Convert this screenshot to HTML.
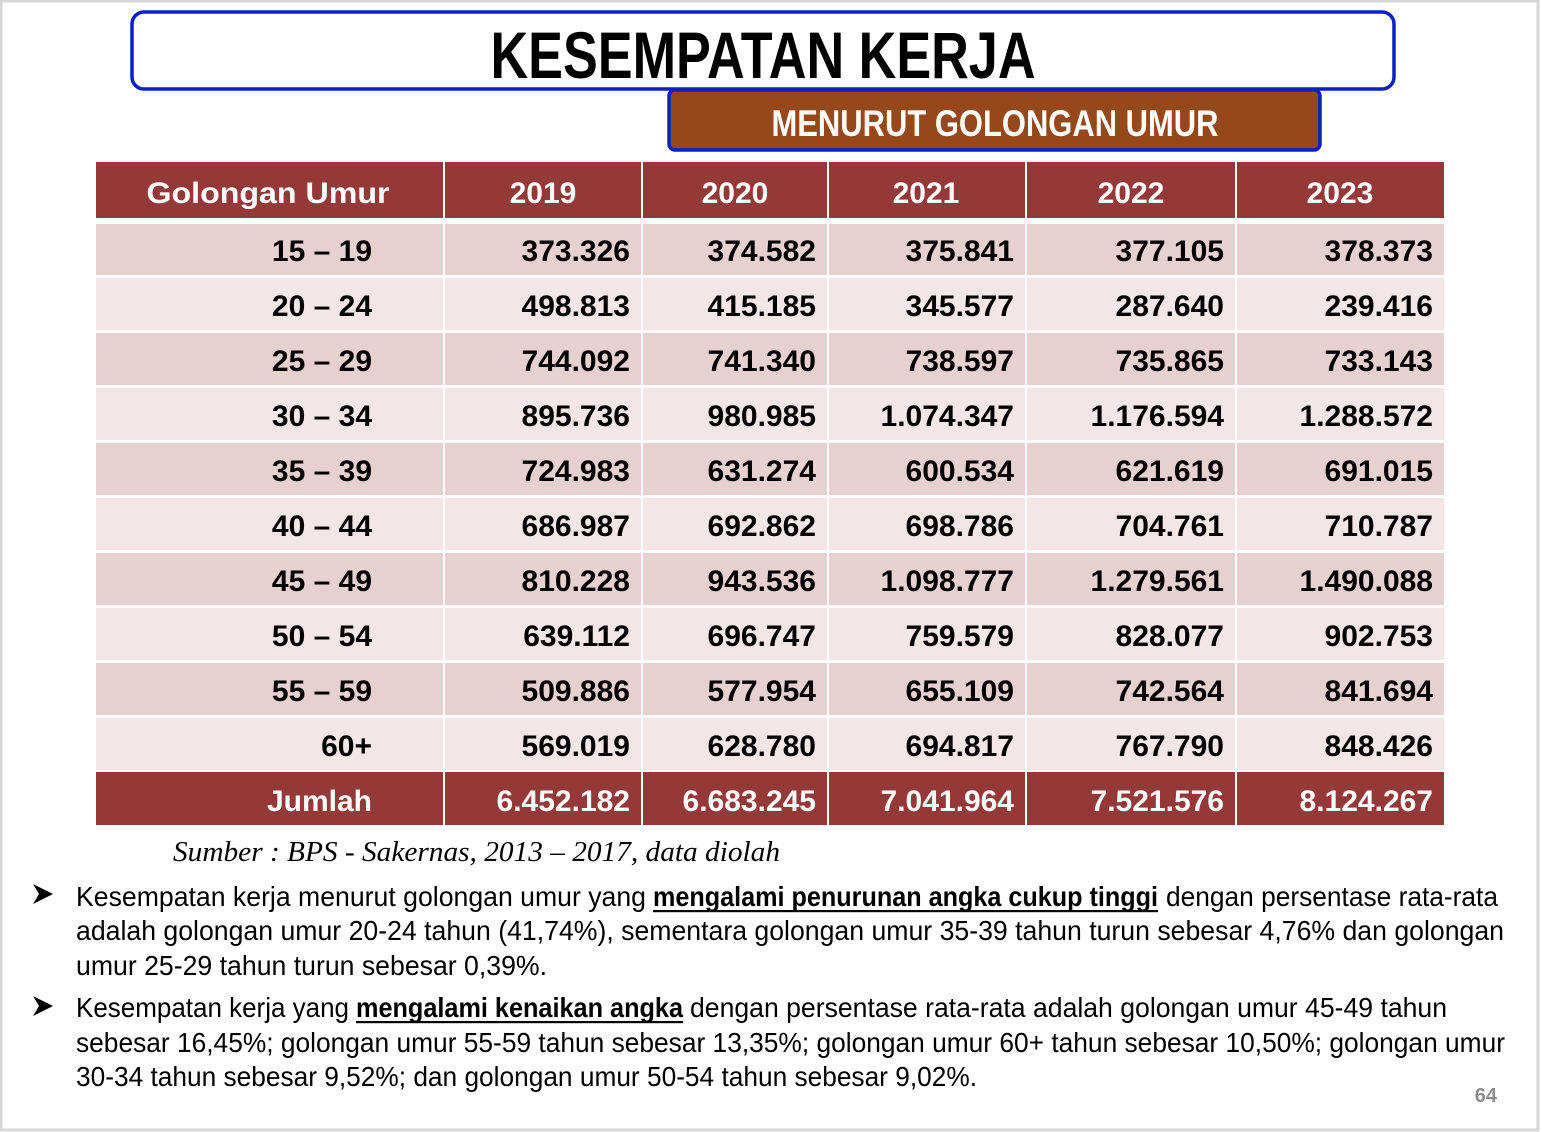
<!DOCTYPE html>
<html><head><meta charset="utf-8"><style>
html,body{margin:0;padding:0;background:#fff}
svg{display:block}
</style></head><body>
<svg width="1542" height="1132" viewBox="0 0 1542 1132" xmlns="http://www.w3.org/2000/svg">
<rect x="0" y="0" width="1542" height="1132" fill="#fff"/>
<rect x="1" y="1" width="1537" height="1129" fill="none" stroke="#d6d6d6" stroke-width="3"/>

<rect x="132" y="12" width="1262" height="77" rx="12" fill="#fff" stroke="#0a1fc8" stroke-width="3.5"/>
<text x="763" y="78" text-anchor="middle" font-family="Liberation Sans, sans-serif" font-weight="bold" font-size="66" textLength="545" lengthAdjust="spacingAndGlyphs" fill="#000">KESEMPATAN KERJA</text>

<rect x="669" y="90" width="651" height="60" rx="6" fill="#97481a" stroke="#0a1fc8" stroke-width="3.5"/>
<text x="995" y="136" text-anchor="middle" font-family="Liberation Sans, sans-serif" font-weight="bold" font-size="37" textLength="447" lengthAdjust="spacingAndGlyphs" fill="#fff">MENURUT GOLONGAN UMUR</text>

<g font-family="Liberation Sans, sans-serif" font-weight="bold" font-size="30">
<rect x="96" y="162" width="1348" height="56" fill="#943838"/>
<g fill="#fff">
<rect x="443" y="162" width="2" height="56"/><rect x="641" y="162" width="2" height="56"/><rect x="827" y="162" width="2" height="56"/><rect x="1025" y="162" width="2" height="56"/><rect x="1235" y="162" width="2" height="56"/>
<text x="268" y="203" text-anchor="middle" textLength="243" lengthAdjust="spacingAndGlyphs">Golongan Umur</text>
<text x="543" y="203" text-anchor="middle">2019</text>
<text x="735" y="203" text-anchor="middle">2020</text>
<text x="926" y="203" text-anchor="middle">2021</text>
<text x="1131" y="203" text-anchor="middle">2022</text>
<text x="1340" y="203" text-anchor="middle">2023</text>
</g>
<g>
<rect x="96" y="224" width="1348" height="51" fill="#e6d0d0"/>
<rect x="96" y="278" width="1348" height="52" fill="#f2e6e6"/>
<rect x="96" y="333" width="1348" height="52" fill="#e6d0d0"/>
<rect x="96" y="388" width="1348" height="52" fill="#f2e6e6"/>
<rect x="96" y="443" width="1348" height="52" fill="#e6d0d0"/>
<rect x="96" y="498" width="1348" height="52" fill="#f2e6e6"/>
<rect x="96" y="553" width="1348" height="52" fill="#e6d0d0"/>
<rect x="96" y="608" width="1348" height="52" fill="#f2e6e6"/>
<rect x="96" y="663" width="1348" height="52" fill="#e6d0d0"/>
<rect x="96" y="718" width="1348" height="52" fill="#f2e6e6"/>
<rect x="96" y="772" width="1348" height="53" fill="#943838"/>
<g fill="#fff">
<rect x="443" y="224" width="2" height="601"/><rect x="641" y="224" width="2" height="601"/><rect x="827" y="224" width="2" height="601"/><rect x="1025" y="224" width="2" height="601"/><rect x="1235" y="224" width="2" height="601"/>
</g>
</g>
<g fill="#000" text-anchor="end">
<g><text x="372" y="261">15 – 19</text><text x="630" y="261">373.326</text><text x="816" y="261">374.582</text><text x="1014" y="261">375.841</text><text x="1224" y="261">377.105</text><text x="1433" y="261">378.373</text></g>
<g><text x="372" y="316">20 – 24</text><text x="630" y="316">498.813</text><text x="816" y="316">415.185</text><text x="1014" y="316">345.577</text><text x="1224" y="316">287.640</text><text x="1433" y="316">239.416</text></g>
<g><text x="372" y="371">25 – 29</text><text x="630" y="371">744.092</text><text x="816" y="371">741.340</text><text x="1014" y="371">738.597</text><text x="1224" y="371">735.865</text><text x="1433" y="371">733.143</text></g>
<g><text x="372" y="426">30 – 34</text><text x="630" y="426">895.736</text><text x="816" y="426">980.985</text><text x="1014" y="426">1.074.347</text><text x="1224" y="426">1.176.594</text><text x="1433" y="426">1.288.572</text></g>
<g><text x="372" y="481">35 – 39</text><text x="630" y="481">724.983</text><text x="816" y="481">631.274</text><text x="1014" y="481">600.534</text><text x="1224" y="481">621.619</text><text x="1433" y="481">691.015</text></g>
<g><text x="372" y="536">40 – 44</text><text x="630" y="536">686.987</text><text x="816" y="536">692.862</text><text x="1014" y="536">698.786</text><text x="1224" y="536">704.761</text><text x="1433" y="536">710.787</text></g>
<g><text x="372" y="591">45 – 49</text><text x="630" y="591">810.228</text><text x="816" y="591">943.536</text><text x="1014" y="591">1.098.777</text><text x="1224" y="591">1.279.561</text><text x="1433" y="591">1.490.088</text></g>
<g><text x="372" y="646">50 – 54</text><text x="630" y="646">639.112</text><text x="816" y="646">696.747</text><text x="1014" y="646">759.579</text><text x="1224" y="646">828.077</text><text x="1433" y="646">902.753</text></g>
<g><text x="372" y="701">55 – 59</text><text x="630" y="701">509.886</text><text x="816" y="701">577.954</text><text x="1014" y="701">655.109</text><text x="1224" y="701">742.564</text><text x="1433" y="701">841.694</text></g>
<g><text x="372" y="756">60+</text><text x="630" y="756">569.019</text><text x="816" y="756">628.780</text><text x="1014" y="756">694.817</text><text x="1224" y="756">767.790</text><text x="1433" y="756">848.426</text></g>
</g>
<g fill="#fff" text-anchor="end">
<text x="372" y="811">Jumlah</text><text x="630" y="811">6.452.182</text><text x="816" y="811">6.683.245</text><text x="1014" y="811">7.041.964</text><text x="1224" y="811">7.521.576</text><text x="1433" y="811">8.124.267</text>
</g>
</g>

<text x="173" y="861" font-family="Liberation Serif, serif" font-style="italic" font-size="28" textLength="607" lengthAdjust="spacingAndGlyphs" fill="#000">Sumber : BPS - Sakernas, 2013  –  2017, data diolah</text>

<path d="M33 884 L53 894 L33 904 L39 894 Z" fill="#000"/>
<path d="M33 996 L53 1006 L33 1016 L39 1006 Z" fill="#000"/>

<g font-family="Liberation Sans, sans-serif" font-size="28" fill="#000">
<text x="76" y="906" textLength="570" lengthAdjust="spacingAndGlyphs">Kesempatan kerja menurut golongan umur yang</text>
<text x="653" y="906" textLength="505" lengthAdjust="spacingAndGlyphs" font-weight="bold">mengalami penurunan angka cukup tinggi</text>
<rect x="653" y="910" width="505" height="2.2"/>
<text x="1166" y="906" textLength="332" lengthAdjust="spacingAndGlyphs">dengan persentase rata-rata</text>
<text x="76" y="940" textLength="1428" lengthAdjust="spacingAndGlyphs">adalah golongan umur 20-24 tahun (41,74%), sementara golongan umur 35-39 tahun turun sebesar 4,76%  dan golongan</text>
<text x="76" y="975" textLength="471" lengthAdjust="spacingAndGlyphs">umur 25-29 tahun turun sebesar 0,39%.</text>

<text x="76" y="1017" textLength="273" lengthAdjust="spacingAndGlyphs">Kesempatan kerja yang</text>
<text x="356" y="1017" textLength="327" lengthAdjust="spacingAndGlyphs" font-weight="bold">mengalami kenaikan angka</text>
<rect x="356" y="1021" width="327" height="2.2"/>
<text x="690" y="1017" textLength="757" lengthAdjust="spacingAndGlyphs">dengan persentase rata-rata adalah golongan umur 45-49 tahun</text>
<text x="76" y="1052" textLength="1429" lengthAdjust="spacingAndGlyphs">sebesar 16,45%; golongan umur 55-59 tahun sebesar 13,35%; golongan umur 60+ tahun sebesar 10,50%; golongan umur</text>
<text x="76" y="1086" textLength="901" lengthAdjust="spacingAndGlyphs">30-34 tahun sebesar 9,52%; dan golongan umur 50-54 tahun sebesar 9,02%.</text>
</g>

<text x="1497" y="1102" text-anchor="end" font-family="Liberation Sans, sans-serif" font-weight="bold" font-size="20" fill="#8c8c8c">64</text>
</svg>
</body></html>
